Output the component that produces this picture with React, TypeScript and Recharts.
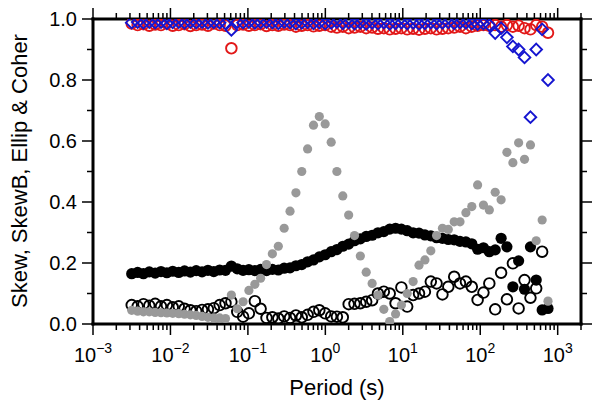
import React from 'react';
import { ScatterChart, Scatter, XAxis, YAxis } from 'recharts';

// period (s), shared by all series
const periods = [
  0.00316, 0.00377, 0.00448, 0.00533, 0.00635, 0.00755, 0.00899, 0.0107, 0.0128, 0.0152,
  0.0181, 0.0215, 0.0256, 0.0305, 0.0363, 0.0432, 0.0514, 0.0612, 0.0729, 0.0867,
  0.103, 0.123, 0.146, 0.174, 0.207, 0.247, 0.294, 0.35, 0.417, 0.496,
  0.59, 0.703, 0.836, 0.995, 1.19, 1.41, 1.68, 2.0, 2.38, 2.83,
  3.37, 4.02, 4.78, 5.69, 6.78, 8.07, 9.59, 11.4, 13.6, 16.2,
  19.3, 23.0, 27.3, 32.5, 38.7, 46.1, 54.8, 65.3, 77.8, 92.5,
  110, 131, 156, 186, 221, 264, 313, 373, 445, 528,
  630, 750,
];

// open black circles
const skew = [
  0.062, 0.058, 0.065, 0.06, 0.066, 0.058, 0.062, 0.055, 0.058, 0.05,
  0.045, 0.042, 0.046, 0.048, 0.052, 0.062, 0.068, 0.073, 0.04, 0.024,
  0.035, 0.075, 0.05, 0.02, 0.022, 0.018, 0.025, 0.02, 0.028, 0.022,
  0.03, 0.04, 0.045, 0.035, 0.025, 0.024, 0.022, 0.065, 0.066, 0.068,
  0.073, 0.078, 0.1, 0.106, 0.1, 0.068, 0.12, 0.057, 0.095, 0.1,
  0.106, 0.139, 0.133, 0.097, 0.122, 0.155, 0.133, 0.139, 0.122, 0.079,
  0.103, 0.133, 0.048, 0.168, 0.081, 0.199, 0.051, 0.144, 0.086, 0.117,
  0.237, null,
];

// grey filled circles
const skewB = [
  0.045, 0.042, 0.04, 0.04, 0.038, 0.037, 0.036, 0.035, 0.034, 0.032,
  0.03, 0.028, 0.025, 0.022, 0.02, 0.02, 0.018, 0.095, 0.05, 0.073,
  0.11, 0.13, 0.15, 0.195, 0.23, 0.255, 0.314, 0.37, 0.43, 0.5,
  0.574, 0.652, 0.68, 0.656, 0.596, 0.5, 0.42, 0.357, 0.29, 0.223,
  0.17, 0.133, 0.095, 0.048, 0.008, 0.033, 0.062, 0.1, 0.139, 0.193,
  0.21, 0.24, 0.29, 0.314, 0.31, 0.335, 0.335, 0.365, 0.385, 0.456,
  0.39, 0.374, 0.432, 0.407, 0.563, 0.529, 0.594, 0.54, 0.587, 0.273,
  0.341, 0.075,
];

// black filled circles
const ellip = [
  0.165, 0.169, 0.165, 0.171, 0.167, 0.172, 0.168, 0.173, 0.169, 0.174,
  0.17, 0.175, 0.171, 0.176, 0.172, 0.177, 0.176, 0.19, 0.181, 0.176,
  0.178, 0.175, 0.179, 0.175, 0.179, 0.177, 0.183, 0.184, 0.191, 0.195,
  0.204, 0.21, 0.22, 0.227, 0.237, 0.244, 0.255, 0.262, 0.273, 0.279,
  0.287, 0.291, 0.299, 0.303, 0.311, 0.314, 0.311, 0.306, 0.299, 0.298,
  0.292, 0.289, 0.283, 0.281, 0.277, 0.276, 0.271, 0.269, 0.263, 0.245,
  0.25, 0.237, 0.243, 0.281, 0.253, 0.122, 0.207, 0.114, 0.253, 0.144,
  0.046, 0.051,
];

// red open circles
const coherE = [
  0.985, 0.98, 0.983, 0.978, 0.982, 0.98, 0.985, 0.978, 0.98, 0.983,
  0.977, 0.98, 0.982, 0.978, 0.985, 0.98, 0.978, 0.904, 0.98, 0.982,
  0.978, 0.98, 0.983, 0.977, 0.98, 0.978, 0.982, 0.98, 0.975, 0.978,
  0.98, 0.976, 0.978, 0.98, 0.975, 0.972, 0.975, 0.97, 0.972, 0.975,
  0.97, 0.972, 0.968, 0.97, 0.966, 0.968, 0.97, 0.966, 0.968, 0.965,
  0.968, 0.97, 0.966, 0.968, 0.97, 0.972, 0.975, 0.97, 0.975, 0.978,
  0.98, 0.978, 0.98, 0.975, 0.98, 0.975, 0.978, 0.97, 0.966, 0.98,
  0.975, 0.955,
];

// blue open diamonds
const coherB = [
  0.988, 0.99, 0.987, 0.99, 0.988, 0.99, 0.986, 0.989, 0.99, 0.987,
  0.99, 0.988, 0.99, 0.987, 0.989, 0.988, 0.986, 0.964, 0.99, 0.988,
  0.99, 0.987, 0.989, 0.99, 0.988, 0.986, 0.99, 0.988, 0.985, 0.987,
  0.989, 0.986, 0.988, 0.985, 0.987, 0.99, 0.986, 0.988, 0.985, 0.987,
  0.984, 0.987, 0.985, 0.988, 0.984, 0.986, 0.988, 0.985, 0.987, 0.984,
  0.986, 0.988, 0.985, 0.987, 0.989, 0.986, 0.988, 0.987, 0.985, 0.983,
  0.985, 0.98, 0.954, 0.97, 0.94, 0.91, 0.9, 0.874, 0.678, 0.9,
  0.966, 0.8,
];

const xMajor = [0.001, 0.01, 0.1, 1, 10, 100, 1000];
const xExponents = ['\u22123', '\u22122', '\u22121', '0', '1', '2', '3'];
const xMinorSteps = [2, 3, 4, 5, 6, 7, 8, 9];
const yTicks = [0, 0.1, 0.2, 0.3, 0.4, 0.5, 0.6, 0.7, 0.8, 0.9, 1.0];
const yMajor = [0, 0.2, 0.4, 0.6, 0.8, 1.0];
const yLabels = ['0.0', '0.2', '0.4', '0.6', '0.8', '1.0'];

const xTicks = [
  ...xMajor,
  ...xMajor.flatMap((d) => xMinorSteps.map((m) => +(d * m).toPrecision(3))).filter((v) => v <= 2000),
].sort((a, b) => a - b);

const FONT = '"Liberation Sans", Arial, Helvetica, sans-serif';

const toPoints = (vals: (number | null)[]) =>
  periods.map((p, i) => ({ p, v: vals[i] })).filter((d) => d.v !== null);

const XTick = (props: any) => {
  const { x, y, payload, top } = props;
  const idx = xMajor.indexOf(payload.value);
  const len = idx >= 0 ? 11 : 6;
  const dir = top ? -1 : 1;
  return (
    <g>
      <line x1={x} y1={y} x2={x} y2={y + dir * len} stroke="#000" strokeWidth={1.5} />
      {!top && idx >= 0 && (
        <text x={x} y={y + 38} textAnchor="middle" fontSize={20} fontFamily={FONT} fill="#000">
          10
          <tspan dy={-9} fontSize={14}>
            {xExponents[idx]}
          </tspan>
        </text>
      )}
    </g>
  );
};

const YTick = (props: any) => {
  const { x, y, payload, right } = props;
  const idx = yMajor.indexOf(payload.value);
  const len = idx >= 0 ? 11 : 6;
  const dir = right ? 1 : -1;
  return (
    <g>
      <line x1={x} y1={y} x2={x + dir * len} y2={y} stroke="#000" strokeWidth={1.5} />
      {!right && idx >= 0 && (
        <text x={x - 16} y={y + 7} textAnchor="end" fontSize={20} fontFamily={FONT} fill="#000">
          {yLabels[idx]}
        </text>
      )}
    </g>
  );
};

const openCircle = (color: string) => (p: any) => (
  <circle cx={p.cx} cy={p.cy} r={5.3} fill="none" stroke={color} strokeWidth={1.9} />
);
const dot = (color: string, r: number) => (p: any) => (
  <circle cx={p.cx} cy={p.cy} r={r} fill={color} />
);
const diamond = (p: any) => (
  <polygon
    points={`${p.cx},${p.cy - 5.8} ${p.cx + 5.8},${p.cy} ${p.cx},${p.cy + 5.8} ${p.cx - 5.8},${p.cy}`}
    fill="none"
    stroke="#1515d0"
    strokeWidth={1.9}
  />
);

const axisLine = { stroke: '#000', strokeWidth: 3, strokeLinecap: 'square' as const };

export default function App() {
  return (
    <div style={{ position: 'absolute', left: 0, top: 0, background: '#fff' }}>
      <ScatterChart width={595} height={408} margin={{ top: 0, right: 0, bottom: 0, left: 0 }}>
        <XAxis
          xAxisId="bottom"
          dataKey="p"
          type="number"
          scale="log"
          domain={[0.001, 2000]}
          allowDataOverflow
          ticks={xTicks}
          interval={0}
          height={84}
          tickSize={0}
          tickMargin={0}
          tickLine={false}
          axisLine={axisLine}
          tick={<XTick />}
          label={() => (
            <text x={337} y={395} textAnchor="middle" fontSize={22} fontFamily={FONT} fill="#000">
              Period (s)
            </text>
          )}
        />
        <XAxis
          xAxisId="top"
          orientation="top"
          dataKey="p"
          type="number"
          scale="log"
          domain={[0.001, 2000]}
          allowDataOverflow
          ticks={xTicks}
          interval={0}
          height={19}
          tickSize={0}
          tickMargin={0}
          tickLine={false}
          axisLine={axisLine}
          tick={<XTick top />}
        />
        <YAxis
          yAxisId="left"
          dataKey="v"
          type="number"
          domain={[0, 1]}
          allowDataOverflow
          ticks={yTicks}
          interval={0}
          width={93}
          tickSize={0}
          tickMargin={0}
          tickLine={false}
          axisLine={axisLine}
          tick={<YTick />}
          label={() => (
            <text
              x={27}
              y={171}
              transform="rotate(-90 27 171)"
              textAnchor="middle"
              fontSize={22}
              fontFamily={FONT}
              fill="#000"
            >
              Skew, SkewB, Ellip &amp; Coher
            </text>
          )}
        />
        <YAxis
          yAxisId="right"
          orientation="right"
          dataKey="v"
          type="number"
          domain={[0, 1]}
          allowDataOverflow
          ticks={yTicks}
          interval={0}
          width={14}
          tickSize={0}
          tickMargin={0}
          tickLine={false}
          axisLine={axisLine}
          tick={<YTick right />}
        />
        <Scatter xAxisId="bottom" yAxisId="left" data={toPoints(skew)} shape={openCircle('#000')} isAnimationActive={false} />
        <Scatter xAxisId="bottom" yAxisId="left" data={toPoints(ellip)} shape={dot('#000', 5.6)} isAnimationActive={false} />
        <Scatter xAxisId="bottom" yAxisId="left" data={toPoints(skewB)} shape={dot('#999999', 4.6)} isAnimationActive={false} />
        <Scatter xAxisId="bottom" yAxisId="left" data={toPoints(coherE)} shape={openCircle('#e21818')} isAnimationActive={false} />
        <Scatter xAxisId="bottom" yAxisId="left" data={toPoints(coherB)} shape={diamond} isAnimationActive={false} />
      </ScatterChart>
    </div>
  );
}
